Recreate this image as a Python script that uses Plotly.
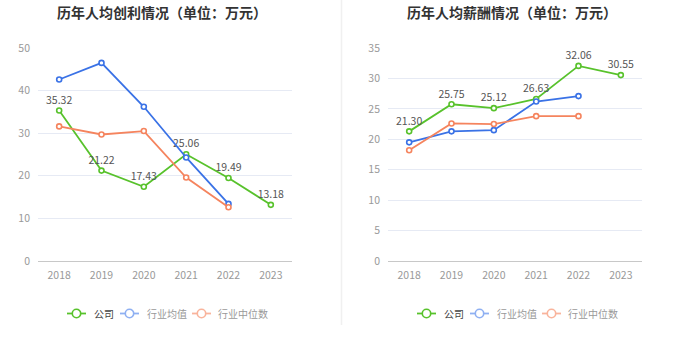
import plotly.graph_objects as go

years = ["2018", "2019", "2020", "2021", "2022", "2023"]

# 人均创利 (万元)
profit_company = [35.32, 21.22, 17.43, 25.06, 19.49, 13.18]
profit_ind_avg = [42.6, 46.5, 36.2, 24.3, 13.4]
profit_ind_med = [31.6, 29.7, 30.5, 19.6, 12.6]

# 人均薪酬 (万元)
salary_company = [21.30, 25.75, 25.12, 26.63, 32.06, 30.55]
salary_ind_avg = [19.5, 21.3, 21.5, 26.2, 27.1]
salary_ind_med = [18.2, 22.6, 22.5, 23.8, 23.8]

series_names = ["公司", "行业均值", "行业中位数"]
colors = ["#58c22c", "#3a72e6", "#f5845e"]
legend_icon_colors = ["#58c22c", "#8fb0f2", "#f9b49c"]
legend_text_colors = ["#444", "#999", "#999"]

FONT = "Noto Sans CJK SC"
W, H = 680, 349

fig = go.Figure()


def add_panel(xa, ya, values_list):
    for i, (vals, name, col) in enumerate(zip(values_list, series_names, colors)):
        is_company = i == 0
        fig.add_trace(go.Scatter(
            x=years[:len(vals)], y=vals, name=name,
            mode="lines+markers+text" if is_company else "lines+markers",
            text=[f"{v:.2f}" for v in vals] if is_company else None,
            textposition="top center",
            textfont=dict(size=10.5, color="#555", family=FONT),
            line=dict(color=col, width=1.8),
            marker=dict(size=5, color="white", line=dict(color=col, width=1.6)),
            xaxis=xa, yaxis=ya, showlegend=False, hoverinfo="x+y",
            cliponaxis=False,
        ))


add_panel("x", "y", [profit_company, profit_ind_avg, profit_ind_med])
add_panel("x2", "y2", [salary_company, salary_ind_avg, salary_ind_med])

y_dom = [(H - 261) / H, (H - 48) / H]
xcommon = dict(
    type="category", range=[-0.5, 5.5], showgrid=False, zeroline=False,
    showline=True, linecolor="#c8c8c8", linewidth=1, ticks="",
    tickfont=dict(size=10.5, color="#999", family=FONT), ticklabelstandoff=4,
    fixedrange=True, automargin=False,
)
ycommon = dict(
    showgrid=True, gridcolor="#e6eaf4", gridwidth=1, zeroline=False,
    showline=False, ticks="",
    tickfont=dict(size=10.5, color="#999", family=FONT), ticklabelstandoff=7,
    fixedrange=True, automargin=False,
)

# hand-drawn legends: short line + hollow circle, followed by label
shapes = [
    dict(type="line", xref="paper", yref="paper",
         x0=341.5 / W, x1=341.5 / W, y0=(H - 325) / H, y1=1,
         line=dict(color="#f0f0f0", width=1.5)),
]
annotations = []
legend_y = 313.5
legend_layouts = [
    [(67, 92), (120, 145), (192, 216)],
    [(417, 442), (470, 495), (542, 566)],
]
for items in legend_layouts:
    for (icon_x, text_x), name, icol, tcol in zip(items, series_names,
                                                  legend_icon_colors, legend_text_colors):
        yc = (H - legend_y) / H
        shapes.append(dict(type="line", xref="paper", yref="paper",
                           x0=icon_x / W, x1=(icon_x + 19) / W, y0=yc, y1=yc,
                           line=dict(color=icol, width=1.8)))
        cx = icon_x + 9.5
        shapes.append(dict(type="circle", xref="paper", yref="paper",
                           x0=(cx - 4.2) / W, x1=(cx + 4.2) / W,
                           y0=(H - legend_y - 4.2) / H, y1=(H - legend_y + 4.2) / H,
                           fillcolor="white", line=dict(color=icol, width=1.6)))
        annotations.append(dict(text=name, x=text_x / W, y=yc, xref="paper", yref="paper",
                                xanchor="left", yanchor="middle", showarrow=False,
                                font=dict(size=10, color=tcol, family=FONT)))

annotations += [
    dict(text="<b>历年人均创利情况（单位：万元）</b>", x=162 / W, y=1 - 12 / H,
         xref="paper", yref="paper", xanchor="center", yanchor="middle",
         showarrow=False, font=dict(size=14, color="#333", family=FONT)),
    dict(text="<b>历年人均薪酬情况（单位：万元）</b>", x=512 / W, y=1 - 12 / H,
         xref="paper", yref="paper", xanchor="center", yanchor="middle",
         showarrow=False, font=dict(size=14, color="#333", family=FONT)),
]

fig.update_layout(
    width=W, height=H,
    margin=dict(l=0, r=0, t=0, b=0),
    paper_bgcolor="white", plot_bgcolor="white",
    font=dict(family=FONT),
    xaxis=dict(domain=[38 / W, 292 / W], anchor="y", **xcommon),
    yaxis=dict(domain=y_dom, range=[0, 50], dtick=10, anchor="x", **ycommon),
    xaxis2=dict(domain=[388 / W, 642 / W], anchor="y2", **xcommon),
    yaxis2=dict(domain=y_dom, range=[0, 35], dtick=5, anchor="x2", **ycommon),
    annotations=annotations,
    shapes=shapes,
    showlegend=False,
)

fig.write_html("out.html")
